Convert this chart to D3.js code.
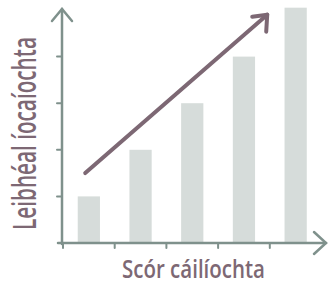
<!DOCTYPE html>
<html><head><meta charset="utf-8">
<script src="https://cdn.jsdelivr.net/npm/d3@7"></script>
<style>body{margin:0;background:#fff}svg{display:block}</style>
</head><body>
<script>
const categories = ["1","2","3","4","5"];
const values = [1, 2, 3, 4, 5.05];
const yTicks = [1, 2, 3, 4];
const trend = [[0.43, 1.5], [3.95, 4.9]];
const xLabel = "Scór cáilíochta";
const yLabel = "Leibhéal íocaíochta";

const W = 328, H = 287;
const axisCol = "#7f918c", barCol = "#d6dcda", accent = "#7d6874";
const svg = d3.select("body").append("svg").attr("width", W).attr("height", H);

const x = d3.scaleBand().domain(categories).range([63, 321.5]).paddingInner(0.57).paddingOuter(0.285);
const xLin = d3.scaleLinear().domain([0, 5]).range([63, 321.5]);
const y = d3.scaleLinear().domain([0, 5]).range([243, 10]);

svg.selectAll("rect.bar").data(values).join("rect")
  .attr("x", (d, i) => x(categories[i])).attr("width", x.bandwidth())
  .attr("y", d => y(d)).attr("height", d => y(0) - y(d) - 1)
  .attr("fill", barCol);

// axes
const g = svg.append("g").attr("stroke", axisCol).attr("stroke-width", 2.5).attr("fill", "none")
  .attr("stroke-linecap", "round");
g.append("line").attr("x1", 62).attr("x2", 62).attr("y1", 9).attr("y2", 244);
g.append("line").attr("x1", 58).attr("x2", 326).attr("y1", 243).attr("y2", 243);
g.append("path").attr("d", "M52,21L62,9L72,21");
g.append("path").attr("d", "M314,232L326,243L314,254");
g.selectAll("line.yt").data(yTicks).join("line").attr("class", "yt")
  .attr("x1", 57).attr("x2", 62).attr("y1", d => y(d)).attr("y2", d => y(d)).attr("stroke-width", 2);
g.selectAll("line.xt").data(categories).join("line").attr("class", "xt")
  .attr("x1", d => x(d) - x.step() * x.paddingOuter()).attr("x2", d => x(d) - x.step() * x.paddingOuter())
  .attr("y1", 243).attr("y2", 248).attr("stroke-width", 2);

// trend arrow
const a = svg.append("g").attr("stroke", accent).attr("stroke-width", 4).attr("fill", "none")
  .attr("stroke-linecap", "round").attr("stroke-linejoin", "round");
const p0 = [xLin(trend[0][0]), y(trend[0][1])], p1 = [xLin(trend[1][0]), y(trend[1][1])];
a.append("line").attr("x1", p0[0]).attr("y1", p0[1]).attr("x2", p1[0]).attr("y2", p1[1]);
a.append("path").attr("d", `M${p1[0]-15},${p1[1]+2}L${p1[0]},${p1[1]}L${p1[0]-1},${p1[1]+17}`);

const ff = "'Open Sans', 'DejaVu Sans', sans-serif";
function label(txt, size, len, tf) {
  const outer = svg.append("g").attr("transform", tf);
  const t = outer.append("text").attr("text-anchor", "middle")
    .attr("font-family", ff).attr("font-weight", 600)
    .attr("font-size", size).attr("fill", accent).text(txt);
  const w = t.node().getComputedTextLength();
  t.attr("transform", `scale(${len / w},1)`);
}
label(xLabel, 25, 143, "translate(193.5,278)");
label(yLabel, 32, 193, "translate(36,133.5) rotate(-90)");
</script>
</body></html>
